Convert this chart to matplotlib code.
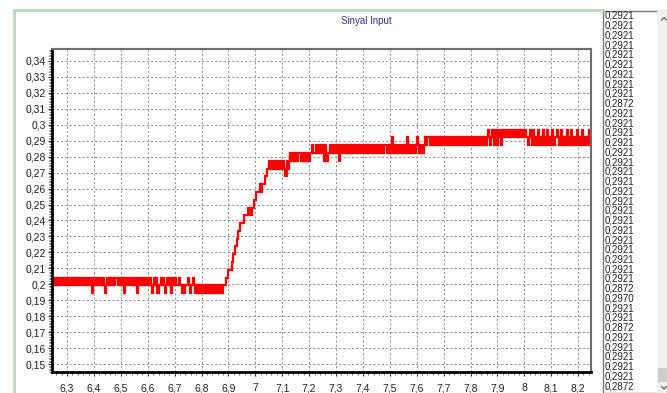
import matplotlib
matplotlib.use("Agg")
import matplotlib.pyplot as plt
import numpy as np
from matplotlib.ticker import MultipleLocator, FuncFormatter
from matplotlib.lines import Line2D
from matplotlib.patches import Rectangle

# ---------------- data ----------------
title = "Sinyal Input"
t_start = 6.244          # time of first sample (s)
dt = 0.004               # sample interval (s)

# ADC quantisation levels (value of each level code)
adc_levels = [0.1944, 0.1993, 0.2042, 0.2091, 0.2139, 0.2188, 0.2237, 0.2286,
              0.2335, 0.2384, 0.2432, 0.2481, 0.2530, 0.2579, 0.2628, 0.2677,
              0.2725, 0.2774, 0.2823, 0.2872, 0.2921, 0.2970]
level_codes = "0123456789abcdefghijkl"

# level code of every sample (50 samples per row = 0.2 s)
signal_rows = [
    "2121212121" "2121212121" "2121212121" "2212112021" "2121121210",  # 6.244
    "1212121212" "2121212012" "2121212120" "2121212112" "1210121201",  # 6.444
    "1212101212" "1021211121" "1010112101" "1210101010" "0101010101",  # 6.644
    "0101101101" "1122333455" "66788999aa" "aabababbcc" "dddedeeeff",  # 6.844
    "gghghghghg" "ghghghgfhg" "hihihihihi" "ihihihihih" "iijiijiiji",  # 7.044
    "jijhjihiji" "jijijijhij" "ijijijijij" "jijijijiji" "jijijijiji",  # 7.244
    "ijijijijij" "jijijikiji" "jijijijiji" "kijijijijk" "jijijijkjk",  # 7.444
    "kjkjkjkjkj" "kjkjkjkjkj" "jkjkjkjkjk" "kjkjkjkjkj" "jkjkjkjkjk",  # 7.644
    "kjkjklkjkl" "kjlkjlkjlk" "lklklklklk" "lklklklklk" "lkjklkjlkj",  # 7.844
    "kjlkjkljkj" "lkjkjlkjkl" "kjkljkjkjl" "kjlkjkkjlk" "jkjljkjkjl",  # 8.044
    "kj",                                                              # 8.244
]

x_major_step = 0.1
y_major_step = 0.01
x_limits = (6.244, 8.248)
y_limits = (0.1450, 0.3475)

list_values = ["0,2921"] * 9 + ["0,2872"] + ["0,2921"] * 18 + \
              ["0,2872", "0,2970", "0,2921", "0,2921", "0,2872"] + \
              ["0,2921"] * 5 + ["0,2872"]

# ---------------- build series ----------------
codes = "".join(signal_rows)
values = np.array([adc_levels[level_codes.index(c)] for c in codes])
times = t_start + dt * np.arange(len(values))

# ---------------- figure ----------------
W, H = 667, 393
plt.rcParams["font.family"] = ["Liberation Sans", "DejaVu Sans"]
fig = plt.figure(figsize=(W / 100, H / 100), dpi=100, facecolor="white")

def fx(px):
    return px / W

def fy(py):
    return 1 - py / H

ax = fig.add_axes([fx(52), fy(372), fx(591) - fx(52), fy(49) - fy(372)])
ax.set_facecolor("white")

ax.plot(times, values, drawstyle="steps-post", color="#ff0000", lw=1.6,
        solid_joinstyle="miter")

ax.set_xlim(*x_limits)
ax.set_ylim(*y_limits)

def comma_fmt(v, pos):
    return f"{round(v, 3):g}".replace(".", ",")

ax.xaxis.set_major_locator(MultipleLocator(x_major_step))
ax.yaxis.set_major_locator(MultipleLocator(y_major_step))
ax.xaxis.set_minor_locator(MultipleLocator(0.02))
ax.yaxis.set_minor_locator(MultipleLocator(0.001))
ax.xaxis.set_major_formatter(FuncFormatter(comma_fmt))
ax.yaxis.set_major_formatter(FuncFormatter(comma_fmt))

ax.tick_params(axis="both", which="major", labelsize=7.5, colors="#222222",
               length=3, width=0.7)
ax.tick_params(axis="y", which="major", pad=1.5)
ax.tick_params(axis="x", which="major", pad=5)
ax.tick_params(axis="both", which="minor", length=2.5, width=0.5, colors="#444444")

ax.grid(True, which="major", linestyle=(0, (2.2, 2.2)), color="#8f8f8f",
        linewidth=0.7)
ax.set_axisbelow(True)

for side in ("left", "bottom"):
    ax.spines[side].set_linewidth(2.0)
    ax.spines[side].set_color("black")
for side in ("top", "right"):
    ax.spines[side].set_linewidth(1.5)
    ax.spines[side].set_color("#6e6e6e")

fig.text(fx(366), fy(21), title, color="#2e2e8f", fontsize=7, ha="center",
         va="center")

# panel frame (light green) around chart area
fig.add_artist(Line2D([fx(14), fx(603)], [fy(10), fy(10)], color="#b8dab8",
                      lw=2.0, transform=fig.transFigure))
fig.add_artist(Line2D([fx(14), fx(14)], [fy(10), fy(393)], color="#b8dab8",
                      lw=2.0, transform=fig.transFigure))

# list box on the right
fig.add_artist(Rectangle((fx(603), fy(393)), fx(667) - fx(603), fy(10.5) - fy(393),
                         facecolor="white", edgecolor="#7a7a7a", lw=1.0,
                         transform=fig.transFigure))
fig.add_artist(Rectangle((fx(656.5), fy(393)), fx(667) - fx(656.5), fy(11) - fy(393),
                         facecolor="#f0f0f0", edgecolor="none",
                         transform=fig.transFigure))
fig.add_artist(Rectangle((fx(657.5), fy(382)), fx(666.5) - fx(657.5), fy(368) - fy(382),
                         facecolor="#cdcdcd", edgecolor="none",
                         transform=fig.transFigure))
# scroll arrows
fig.add_artist(Line2D([fx(661.5), fx(664), fx(666.5)], [fy(20), fy(17.5), fy(20)],
                      color="#606060", lw=0.9, transform=fig.transFigure))
fig.add_artist(Line2D([fx(661.5), fx(664), fx(666.5)], [fy(386.5), fy(389), fy(386.5)],
                      color="#606060", lw=0.9, transform=fig.transFigure))

row_y0, row_dy = 16.0, 9.74
for i, txt in enumerate(list_values):
    fig.text(fx(604.5), fy(row_y0 + i * row_dy), txt, fontsize=7, color="#222222",
             ha="left", va="center")

fig.savefig("out.png", dpi=100, facecolor="white")
